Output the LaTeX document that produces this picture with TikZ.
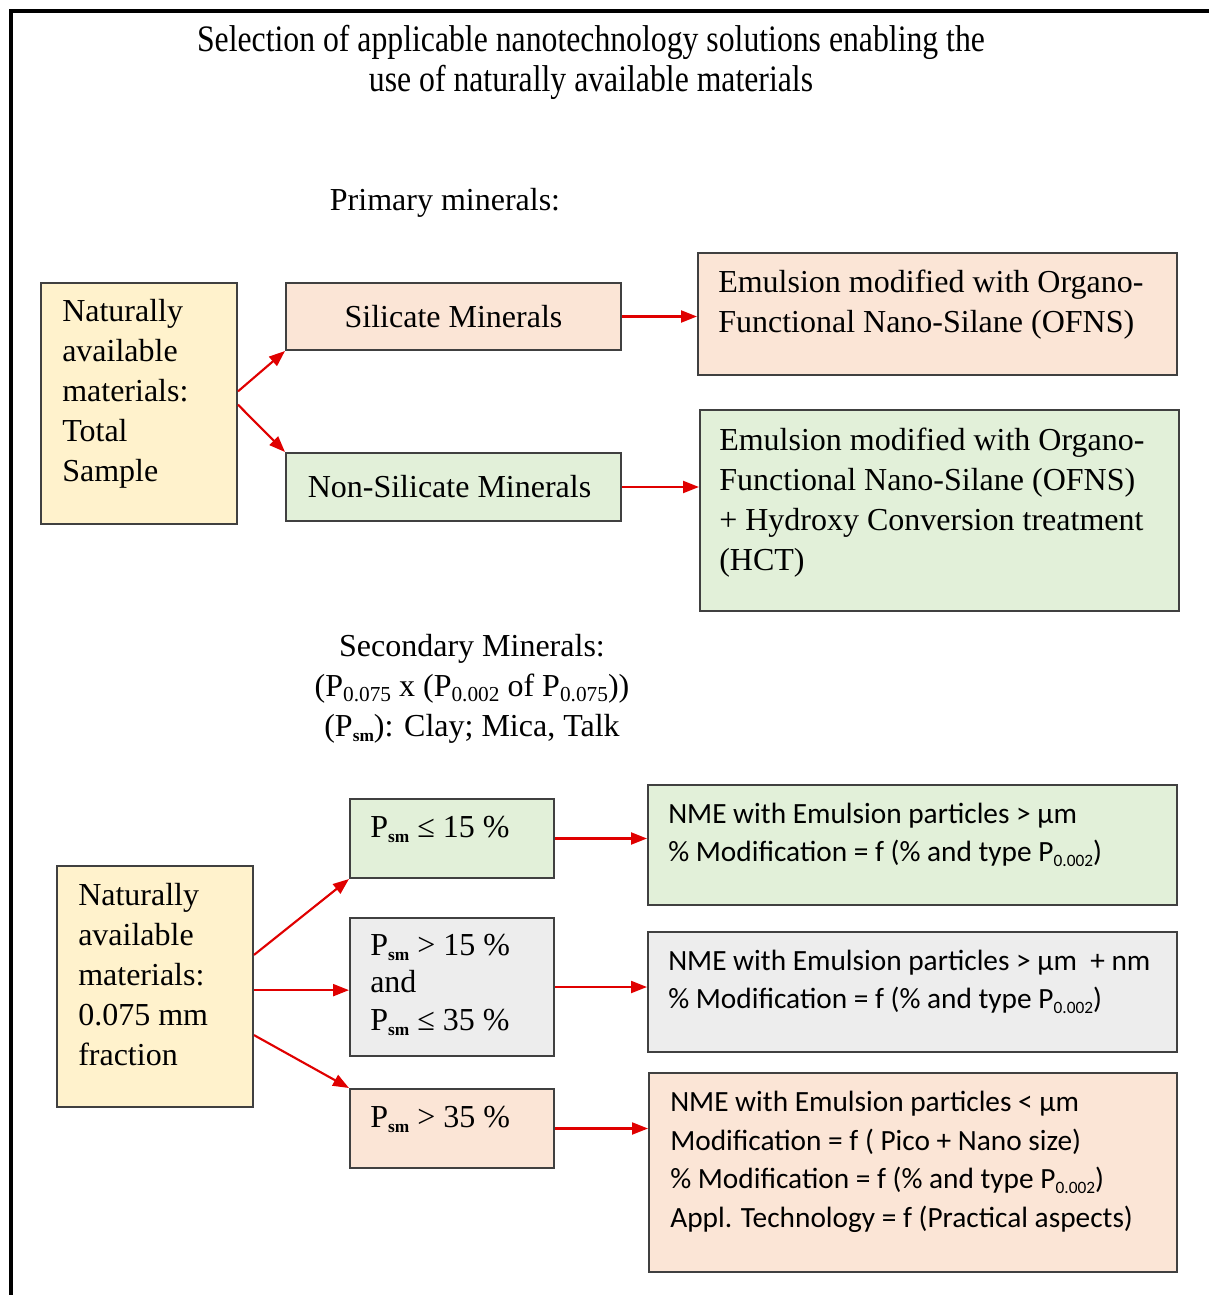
\documentclass[tikz,border=0pt]{standalone}
\usepackage{fontspec}
\setmainfont{Liberation Serif}
\newfontfamily\calib{Carlito}
\newfontfamily\titlefont{Liberation Serif}[FakeStretch=0.85]
\usetikzlibrary{fit,calc,arrows.meta}
\definecolor{cyel}{HTML}{FFF2CC}
\definecolor{cpea}{HTML}{FBE5D6}
\definecolor{cgrn}{HTML}{E2F0D9}
\definecolor{cgry}{HTML}{EDEDED}
\definecolor{bordc}{HTML}{404040}
\definecolor{arrc}{HTML}{E00000}
\newcommand{\Psm}{P\raisebox{-0.35ex}{\fontsize{13}{13}\selectfont\bfseries sm}}
\newcommand{\Psub}[1]{P\raisebox{-0.35ex}{\fontsize{16}{16}\selectfont #1}}
\newcommand{\Pnme}{P\raisebox{-0.35ex}{\fontsize{13}{13}\selectfont 0.002}}
\begin{document}
\begin{tikzpicture}[x=0.75pt,y=-0.75pt,
  box/.style={draw=bordc, line width=1.5pt, inner sep=0pt},
  arr/.style={draw=arrc, line width=1.6pt, -{Triangle[length=12pt,width=9pt]}},
  txt/.style={inner sep=0pt, align=left, anchor=north west, font=\fontsize{24}{30}\selectfont},
  ntxt/.style={inner sep=0pt, align=left, anchor=north west, font=\calib\fontsize{22}{28.5}\selectfont}]
\useasboundingbox (0,0) rectangle (1209,1295);
\draw[line width=2.4pt] (1209,11) -- (11,11) -- (11,1295);

% title and headings
\node[inner sep=0pt, align=center, font=\titlefont\fontsize{28}{30}\selectfont] (title) at (591,62)
  {Selection of applicable nanotechnology solutions enabling the\\use of naturally available materials};
\node[inner sep=0pt, font=\fontsize{24}{30}\selectfont] (prim) at (445,203) {Primary minerals:};
\node[inner sep=0pt, align=center, font=\fontsize{24}{30}\selectfont] (sec) at (472,689)
  {Secondary Minerals:\\(\Psub{0.075} x (\Psub{0.002} of \Psub{0.075}))\\(\Psm): Clay; Mica, Talk};

% upper part
\node[box, fill=cyel, fit={(41,283)(237,524)}] (A) {};
\node[txt] (Atxt) at (62,299) {Naturally\\available\\materials:\\Total\\Sample};
\node[box, fill=cpea, fit={(286,283)(621,350)}] (sil) {};
\node[inner sep=0pt, font=\fontsize{24}{30}\selectfont] (siltxt) at (sil.center) {Silicate Minerals};
\node[box, fill=cgrn, fit={(286,453)(621,521)}] (non) {};
\node[inner sep=0pt, font=\fontsize{24}{30}\selectfont] (nontxt) at ([xshift=-3pt]non.center) {Non-Silicate Minerals};
\node[box, fill=cpea, fit={(698,253)(1177,375)}] (em1) {};
\node[txt] (em1txt) at (718,270) {Emulsion modified with Organo-\\Functional Nano-Silane (OFNS)};
\node[box, fill=cgrn, fit={(700,410)(1179,611)}] (em2) {};
\node[txt] (em2txt) at (719,428) {Emulsion modified with Organo-\\Functional Nano-Silane (OFNS)\\+ Hydroxy Conversion treatment\\(HCT)};

% lower part
\node[box, fill=cyel, fit={(57,866)(253,1107)}] (B) {};
\node[txt] (Btxt) at (78,883) {Naturally\\available\\materials:\\0.075 mm\\fraction};
\node[box, fill=cgrn, fit={(350,799)(554,878)}] (p1) {};
\node[txt] (p1txt) at (370,816) {\Psm\ ≤ 15 \%};
\node[box, fill=cgry, fit={(350,918)(554,1056)}] (p2) {};
\node[txt, font=\fontsize{24}{28}\selectfont] (p2txt) at (370,934) {\Psm\ > 15 \%\\and\\\Psm\ ≤ 35 \%};
\node[box, fill=cpea, fit={(350,1089)(554,1168)}] (p3) {};
\node[txt] (p3txt) at (370,1106) {\Psm\ > 35 \%};

\node[box, fill=cgrn, fit={(648,785)(1177,905)}] (n1) {};
\node[ntxt] (n1txt) at (668,803) {NME with Emulsion particles > µm\\\% Modification = f (\% and type \Pnme)};
\node[box, fill=cgry, fit={(648,932)(1177,1052)}] (n2) {};
\node[ntxt] (n2txt) at (668,950) {NME with Emulsion particles > µm \ + nm\\\% Modification = f (\% and type \Pnme)};
\node[box, fill=cpea, fit={(649,1073)(1177,1272)}] (n3) {};
\node[ntxt, font=\calib\fontsize{22}{29}\selectfont] (n3txt) at (670,1091) {NME with Emulsion particles < µm\\Modification = f ( Pico + Nano size)\\\% Modification = f (\% and type \Pnme)\\Appl. Technology = f (Practical aspects)};

% connectors
\coordinate (a1) at ($(A.north east)!0.45!(A.south east)$);
\coordinate (a2) at ($(A.north east)!0.505!(A.south east)$);
\draw[arr] (a1) -- (sil.south west);
\draw[arr] (a2) -- (non.north west);
\draw[arr] (sil.east) -- (sil.east -| em1.west);
\draw[arr] (non.east) -- (non.east -| em2.west);

\coordinate (b1) at ($(B.north east)!0.37!(B.south east)$);
\coordinate (b2) at ($(B.north east)!0.515!(B.south east)$);
\coordinate (b3) at ($(B.north east)!0.70!(B.south east)$);
\draw[arr] (b1) -- (p1.south west);
\draw[arr] (b2) -- (b2 -| p2.west);
\draw[arr] (b3) -- (p3.north west);
\draw[arr] (p1.east) -- (p1.east -| n1.west);
\draw[arr] (p2.east) -- (p2.east -| n2.west);
\draw[arr] (p3.east) -- (p3.east -| n3.west);
\end{tikzpicture}
\end{document}
